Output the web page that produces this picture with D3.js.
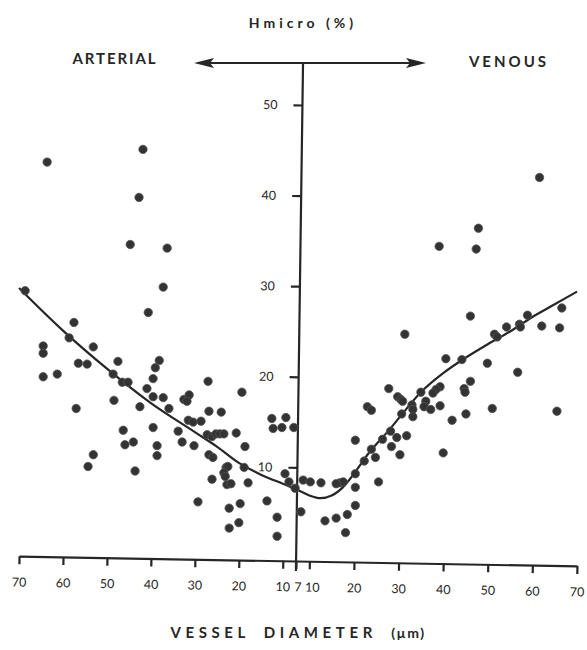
<!DOCTYPE html>
<html><head><meta charset="utf-8">
<script src="https://cdn.jsdelivr.net/npm/d3@7"></script>
<style>body{margin:0;background:#fff}svg{display:block}</style>
</head><body>
<svg id="c" width="587" height="650"></svg>
<script>
// Arterial side (left): vessel diameter (µm) and Hmicro (%)
const arterialDiameter = [63.6,41.8,42.7,44.7,36.3,37.2,40.6,57.5,68.6,58.6,53.1,64.5,64.5,56.5,54.5,47.5,64.5,61.3,48.6,46.5,45.2,40.9,57.0,48.4,42.5,39.5,39.0,38.1,39.5,37.2,35.9,46.3,45.9,44.0,39.5,38.6,38.6,53.1,54.3,43.6,33.8,32.9,30.2,32.5,31.3,31.8,27.0,31.5,30.4,28.6,26.8,24.0,19.3,27.2,26.1,25.2,24.3,23.4,20.6,18.6,26.8,25.9,26.1,22.9,22.5,23.4,23.1,22.7,21.8,17.9,18.8,29.3,22.2,19.7,22.2,20.0,13.6,11.3,11.3,12.5,12.2,10.2,9.3,7.5,9.5,8.6,7.2];
const arterialHmicro   = [43.7,45.1,39.8,34.6,34.2,29.9,27.1,26.0,29.5,24.3,23.3,23.4,22.6,21.5,21.4,21.7,20.0,20.3,20.3,19.4,19.4,18.7,16.5,17.4,16.7,19.8,21.0,21.8,17.8,17.7,16.5,14.1,12.5,12.8,14.4,12.4,11.3,11.4,10.1,9.6,14.0,12.8,12.4,17.5,18.0,17.3,19.5,15.2,15.0,15.1,16.2,16.1,18.3,13.6,13.4,13.7,13.7,13.7,13.8,12.3,11.4,11.1,8.7,10.0,10.1,9.4,9.0,8.1,8.2,8.3,10.0,6.2,5.5,6.0,3.3,3.9,6.3,4.5,2.4,15.4,14.3,14.4,15.5,14.4,9.3,8.4,7.7];

// Venous side (right)
const venousDiameter = [61.6,47.9,39.1,47.4,46.1,31.4,51.5,52.1,54.2,57.1,57.3,58.9,62.1,66.1,66.6,40.6,44.2,49.9,56.7,65.5,51.0,46.1,44.7,44.9,45.1,42.0,39.3,40.0,39.3,38.4,37.7,35.0,36.1,35.7,37.2,33.0,33.2,33.2,29.8,30.5,30.9,27.8,30.7,23.0,23.9,28.2,29.6,31.8,28.4,30.3,26.4,23.9,24.8,22.3,20.3,25.5,20.3,20.3,20.3,18.5,16.0,13.5,18.1,8.1,16.9,17.6,16.0,12.6,8.6,10.2];
const venousHmicro   = [42.0,36.4,34.4,34.1,26.7,24.7,24.7,24.4,25.5,25.8,25.5,26.8,25.6,25.4,27.6,22.0,21.9,21.5,20.5,16.2,16.5,19.5,18.7,18.3,15.9,15.2,16.8,11.6,18.9,18.6,18.2,18.3,17.3,16.7,16.4,16.9,16.4,15.6,17.8,17.5,17.3,18.7,15.9,16.7,16.3,14.0,13.3,13.5,12.3,11.4,13.1,12.0,11.1,10.7,13.0,8.4,9.3,7.8,5.8,4.8,4.4,4.1,2.8,5.1,8.3,8.4,8.2,8.3,8.6,8.4];

// Fitted curve
const curveArterialDiameter = [70,60,50,40,30,25,20,15,10,7];
const curveArterialHmicro   = [29.8,25.1,20.9,17.1,13.9,12.3,10.5,9.2,8.2,7.6];
const curveVenousDiameter = [10,12.5,15,17.5,20,23.5,28,31,35,40,45,50,55,60,65,70];
const curveVenousHmicro   = [6.9,6.6,6.9,7.8,9.3,11.7,14.2,16.0,18.3,20.4,22.1,23.6,25.0,26.6,28.0,29.4];

const yTicks = [10,20,30,40,50];
const xTicksArterial = [70,60,50,40,30,20,10,7];
const xTicksVenous = [10,20,30,40,50,60,70];

const svg = d3.select("#c");
const ink = "#262626";
const font = "Lato, 'DejaVu Sans', sans-serif";

const xArt = d3.scaleLinear().domain([7,70]).range([296,19]);
const xVen = d3.scaleLinear().domain([7,70]).range([296,577]);
const y = d3.scaleLinear().domain([0,50]).range([558,105]);

// X axis (slightly tilted like the scan)
const xg = svg.append("g").attr("transform","rotate(1.0,296,561)");
function styleAxis(g){
  g.select(".domain").attr("stroke",ink).attr("stroke-width",2.2);
  g.selectAll(".tick line").attr("stroke",ink).attr("stroke-width",2.2);
  g.selectAll(".tick text").attr("fill",ink).attr("font-family",font)
    .attr("font-size",12.5).attr("dy","1.55em");
}
const axA = xg.append("g").attr("transform","translate(0,561)")
  .call(d3.axisBottom(xArt).tickValues(xTicksArterial).tickSize(8).tickSizeOuter(0).tickFormat(d3.format("d")));
styleAxis(axA);
axA.selectAll(".tick text").filter(d=>d===7).attr("dx","2");
const axV = xg.append("g").attr("transform","translate(0,561)")
  .call(d3.axisBottom(xVen).tickValues(xTicksVenous).tickSize(8).tickSizeOuter(0).tickFormat(d3.format("d")));
styleAxis(axV);
axV.selectAll(".tick text").filter(d=>d===10).attr("dx","3");

// Y axis (vertical centre line, slightly tilted)
const yg = svg.append("g").attr("transform","rotate(0.8,299.5,316)");
yg.append("line").attr("x1",299.5).attr("x2",299.5).attr("y1",63).attr("y2",571)
  .attr("stroke",ink).attr("stroke-width",2.2);
const ay = yg.append("g").attr("transform","translate(299.5,0)")
  .call(d3.axisLeft(y).tickValues(yTicks).tickSize(9).tickFormat(d3.format("d")));
ay.select(".domain").remove();
ay.selectAll(".tick line").attr("stroke",ink).attr("stroke-width",2.2);
ay.selectAll(".tick text").attr("fill",ink).attr("font-family",font).attr("font-size",12.5).attr("dx","-13");

// Double arrow at top
svg.append("line").attr("x1",205).attr("x2",415).attr("y1",63).attr("y2",63)
  .attr("stroke",ink).attr("stroke-width",2.2);
svg.append("path").attr("d","M194,63 L214,58 L210,63 L214,68 Z").attr("fill",ink);
svg.append("path").attr("d","M426,63 L406,58 L410,63 L406,68 Z").attr("fill",ink);

// Titles
svg.append("text").attr("x",303).attr("y",28).attr("text-anchor","middle")
  .attr("font-family",font).attr("font-weight",700).attr("font-size",14)
  .attr("letter-spacing","4").attr("fill",ink).text("Hmicro (%)");
svg.append("text").attr("x",115).attr("y",64).attr("text-anchor","middle")
  .attr("font-family",font).attr("font-weight",700).attr("font-size",15)
  .attr("letter-spacing","1.9").attr("fill",ink).text("ARTERIAL");
svg.append("text").attr("x",509).attr("y",67).attr("text-anchor","middle")
  .attr("font-family",font).attr("font-weight",700).attr("font-size",15)
  .attr("letter-spacing","3").attr("fill",ink).text("VENOUS");
const xl = svg.append("text").attr("x",298).attr("y",638).attr("text-anchor","middle")
  .attr("font-family",font).attr("font-weight",700).attr("font-size",15)
  .attr("letter-spacing","4.6").attr("word-spacing","6").attr("fill",ink);
xl.append("tspan").text("VESSEL DIAMETER ");
xl.append("tspan").attr("font-size",14).attr("letter-spacing","1.5").text("(\u00b5m)");

// Fitted curve
const curvePts = curveArterialDiameter.map((d,i)=>[xArt(d), y(curveArterialHmicro[i])])
  .concat(curveVenousDiameter.map((d,i)=>[xVen(d), y(curveVenousHmicro[i])]));
svg.append("path").attr("d", d3.line().curve(d3.curveCatmullRom)(curvePts))
  .attr("fill","none").attr("stroke",ink).attr("stroke-width",2.2);

// Points
const art = arterialDiameter.map((d,i)=>({x:xArt(d), y:y(arterialHmicro[i])}));
const ven = venousDiameter.map((d,i)=>({x:xVen(d), y:y(venousHmicro[i])}));
svg.append("g").selectAll("circle").data(art.concat(ven)).join("circle")
  .attr("cx",d=>d.x).attr("cy",d=>d.y).attr("r",4.2)
  .attr("fill","#333").attr("stroke","#555").attr("stroke-width",0.8);
</script>
</body></html>
